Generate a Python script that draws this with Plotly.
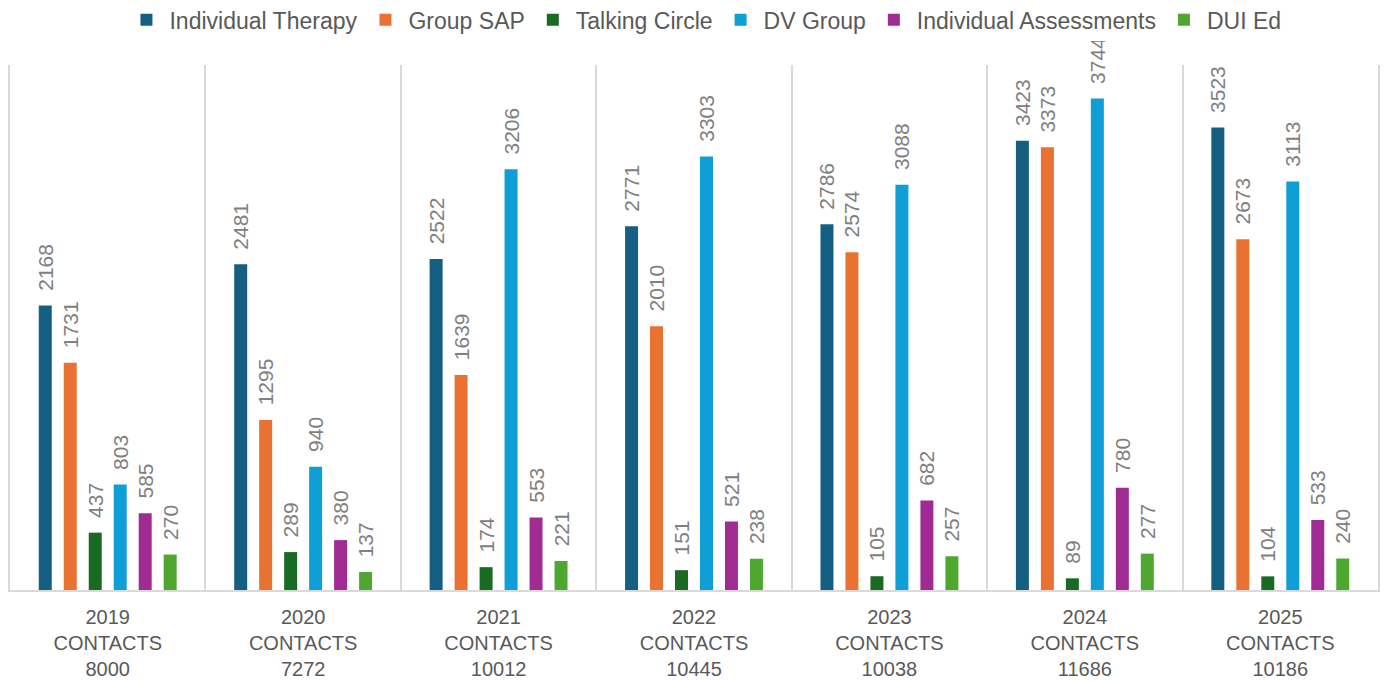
import plotly.graph_objects as go

years = ["2019", "2020", "2021", "2022", "2023", "2024", "2025"]
contacts = [8000, 7272, 10012, 10445, 10038, 11686, 10186]

series_names = ["Individual Therapy", "Group SAP", "Talking Circle", "DV Group",
                "Individual Assessments", "DUI Ed"]
individual_therapy = [2168, 2481, 2522, 2771, 2786, 3423, 3523]
group_sap = [1731, 1295, 1639, 2010, 2574, 3373, 2673]
talking_circle = [437, 289, 174, 151, 105, 89, 104]
dv_group = [803, 940, 3206, 3303, 3088, 3744, 3113]
individual_assessments = [585, 380, 553, 521, 682, 780, 533]
dui_ed = [270, 137, 221, 238, 257, 277, 240]

colors = ["#156082", "#E97132", "#196B24", "#0F9ED5", "#A02B93", "#4EA72E"]

categories = [f"{y}<br>CONTACTS<br>{c}" for y, c in zip(years, contacts)]
all_series = [individual_therapy, group_sap, talking_circle, dv_group,
              individual_assessments, dui_ed]

FONT = "Liberation Sans, Arial, sans-serif"

fig = go.Figure()
for name, vals, col in zip(series_names, all_series, colors):
    fig.add_trace(go.Bar(
        name=name, x=categories, y=vals,
        marker=dict(color=col, line=dict(width=0)),
        texttemplate="\u00a0\u00a0%{y}",
        textposition="outside",
        textangle=-90,
        constraintext="none",
        cliponaxis=False,
        textfont=dict(family=FONT, size=21, color="#808080"),
    ))

fig.update_layout(
    width=1386, height=681,
    margin=dict(l=10, r=8, t=65, b=91, autoexpand=False),
    barmode="group",
    bargap=0.233,
    bargroupgap=0.48,
    plot_bgcolor="white",
    paper_bgcolor="white",
    showlegend=True,
    legend=dict(
        orientation="h", x=0.508, xanchor="center", y=1.086, yanchor="middle",
        font=dict(family=FONT, size=23, color="#595959"),
        itemwidth=36, traceorder="normal",
    ),
    xaxis=dict(
        type="category",
        tickson="boundaries",
        showgrid=True, gridcolor="#d9d9d9", gridwidth=1.5,
        showline=True, linecolor="#d9d9d9", linewidth=1.5,
        ticks="",
        ticklabelstandoff=8,
        tickfont=dict(family=FONT, size=20, color="#595959"),
        range=[-0.5, 6.5],
    ),
    yaxis=dict(
        range=[0, 4000], showticklabels=False, showgrid=False, zeroline=False,
        ticks="", showline=True, mirror=True, linecolor="#d9d9d9", linewidth=1.5,
    ),
)

fig.write_html(
    "out.html",
    config={"displayModeBar": False},
    post_script="document.body.style.margin='0';document.body.style.overflow='hidden';",
)
